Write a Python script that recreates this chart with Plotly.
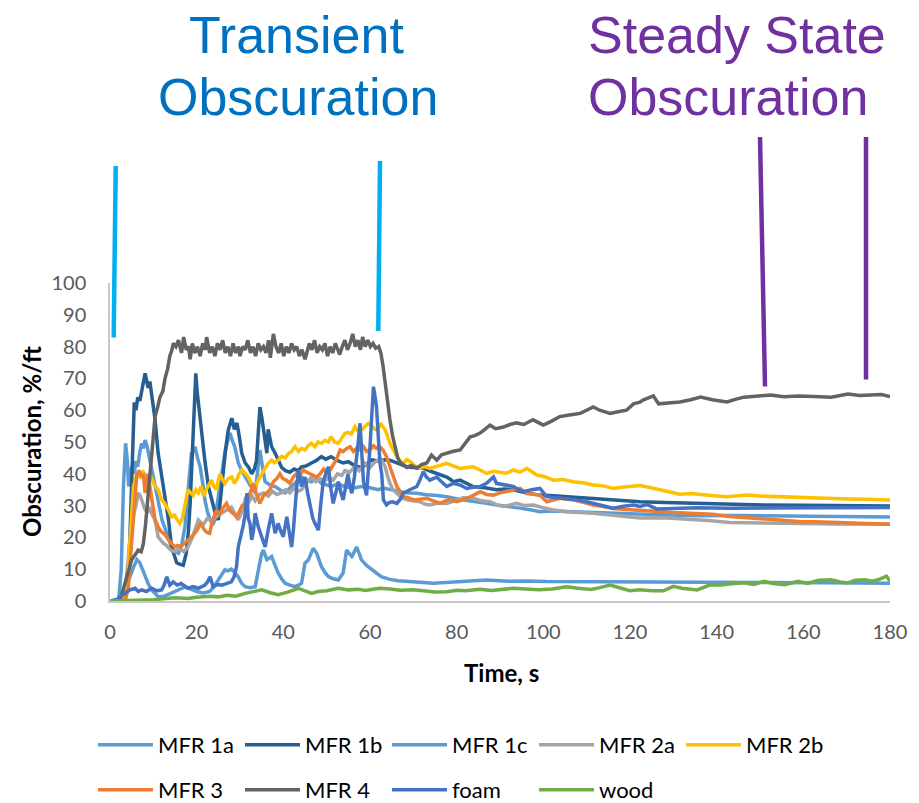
import plotly.graph_objects as go

# ---------------- data ----------------
series_names = ["MFR 1a", "MFR 1b", "MFR 1c", "MFR 2a", "MFR 2b", "MFR 3", "MFR 4", "foam", "wood"]
series_colors = ["#5B9BD5", "#255E91", "#5B9BD5", "#A5A5A5", "#FFC000", "#ED7D31", "#636363", "#4472C4", "#70AD47"]

x_ticks = [0, 20, 40, 60, 80, 100, 120, 140, 160, 180]
y_ticks = [0, 10, 20, 30, 40, 50, 60, 70, 80, 90, 100]

mfr1a = [(0,0),(2.0,0.5),(2.6,10),(3.1,36),(3.6,49.6),(4.0,44),(4.3,36),(4.7,38),(5.0,42.5),(5.6,40),(6.0,44),(6.4,42.2),(6.9,47),(7.3,49.6),(7.7,48),(8.1,50.6),(8.5,49),(8.8,46.5),(9.4,43),(10.0,39),(10.6,35),(11.2,30.7),(12.0,25.5),(13.1,21.3),(14.2,17),(15.0,15.5),(15.8,15),(16.6,18),(17.3,23.4),(17.9,33),(18.4,41),(18.8,46.5),(19.2,47),(19.6,48.5),(20.2,45),(20.8,42.2),(21.4,37),(21.9,31.8),(22.5,28),(23.1,25.5),(23.7,24),(24.2,25.5),(24.8,31),(25.4,37),(26.0,42),(26.5,46.5),(27.1,50),(27.7,52.8),(28.2,50.5),(28.8,48.5),(29.2,46),(29.6,43.4),(30.4,41),(31.2,39),(32.3,36.5),(33.5,34),(34.0,40),(34.6,47.5),(35.2,42),(35.8,37.5),(36.9,36.5),(38.1,36),(39.2,35),(40.4,34),(41.5,35.5),(42.7,37),(44.2,39),(45.3,38),(46.5,37.5),(47.7,38.5),(48.8,37),(50.0,36.5),(51.0,36),(52.5,36.8),(54.2,36),(56.0,35.5),(58.0,36),(60.0,35.6),(61.9,35),(63.0,35.5),(64.6,35),(66.5,34.5),(68.5,34),(70.8,33.9),(73.0,33.4),(75.5,33.2),(77.7,32.8),(80.5,32),(83.8,31.2),(86.5,30.8),(89.2,30.2),(92.0,29.8),(94.6,29.2),(97.0,28.7),(99.2,28.1),(102.0,28.3),(105.4,28.1),(110.0,27.8),(116.0,27.6),(120.0,27.4),(127.0,27.1),(135.5,26.8),(143.0,26.9),(151.0,26.8),(160.0,26.6),(170.0,26.5),(180.0,26.4)]

mfr1b = [(0,0),(2,0),(3,0.5),(4,3),(4.6,20),(5.0,40),(5.4,57),(5.6,62.5),(6.0,60),(6.4,64),(6.9,63),(7.3,66),(7.7,68),(8.1,71.6),(8.5,69),(8.8,67),(9.2,69),(9.6,65),(10.0,61),(10.4,57),(11.1,46.5),(11.7,41),(12.3,36),(12.9,31),(13.5,25.5),(14.2,17),(14.8,14),(15.4,12),(16.2,11.5),(16.9,11.2),(17.6,15),(18.1,22),(18.5,30.7),(18.9,45),(19.2,57),(19.5,65),(19.8,71.6),(20.1,66),(20.4,62),(20.8,56),(21.2,51.6),(21.9,44),(22.7,36),(23.2,33),(23.8,30.5),(24.4,27),(25.0,25.5),(25.5,33),(26.1,41),(26.7,48),(27.3,53.8),(28.1,57.5),(28.7,54),(29.3,56),(29.8,52),(30.4,46.5),(31.2,43.4),(32.0,42),(32.7,40),(33.3,41.5),(33.8,44),(34.2,52),(34.6,61),(35.0,58),(35.4,53.8),(35.8,50),(36.2,46.5),(36.5,54),(36.9,51),(37.3,48.5),(38.1,46.5),(38.8,44.3),(39.6,42),(40.5,41),(41.5,40.5),(42.5,41.5),(43.4,41),(44.2,42.2),(45.3,42.5),(46.5,43.4),(47.6,44.2),(48.8,45.4),(49.8,44.6),(51.0,45.4),(52.4,44.2),(53.8,43.4),(55.0,43.8),(56.5,42.5),(58.0,42),(59.2,43),(60.4,44.4),(61.8,44),(63.5,44.4),(64.6,44.3),(66.5,43.2),(68.5,42.2),(70.5,41.9),(72.3,41.8),(74.0,40.8),(75.4,40.2),(76.5,39.6),(77.7,39),(78.5,38.3),(79.2,37.5),(80.8,38),(82.3,37),(83.8,36),(86.5,35.6),(89.2,35),(91.0,35.2),(93.1,35),(96.0,34),(99.2,33.3),(102.3,33.1),(105.4,32.8),(109.0,32.5),(113.0,32.3),(117.5,31.8),(122.3,31.2),(128.0,31),(135.5,30.7),(143.0,30.5),(151.0,30.2),(160.0,30.1),(170.0,30),(180.0,29.9)]

mfr1c = [(0,0),(2.5,0.5),(3.1,3),(3.8,5),(4.6,7.6),(5.4,10.5),(6.2,13),(6.9,12),(7.5,10),(8.1,7.6),(8.8,5.5),(9.6,3.5),(10.4,2.2),(11.2,1.3),(12.5,1.5),(14.0,2.5),(15.5,3.5),(17.3,4.4),(18.5,3.8),(20.0,3),(21.5,2.5),(23.0,3),(24.0,4.5),(25.0,6.6),(25.8,8.5),(26.5,9.8),(27.2,9.5),(28.0,10),(28.8,9),(29.6,7.6),(30.4,5.5),(31.2,4.5),(32.3,4.2),(33.5,4.5),(34.0,8),(34.6,13),(35.0,15),(35.4,16),(35.8,14.5),(36.2,13),(36.8,13.5),(37.3,14),(38.0,11.5),(38.8,8.8),(39.6,7),(40.4,5.6),(41.5,5),(42.7,4.5),(43.5,5),(44.2,5.6),(45.0,11.9),(45.8,13),(46.4,15),(46.9,16.6),(47.7,15),(48.3,13),(48.8,10.8),(49.6,9),(50.4,7.7),(51.5,7),(52.7,6.6),(53.8,8.8),(54.2,12),(54.6,16),(55.2,15),(55.8,14),(56.4,15.5),(56.9,17),(57.5,15),(58.0,13),(59.2,11.2),(60.4,9.8),(61.5,8.8),(62.7,7.6),(64.6,6.8),(66.5,6.4),(68.5,6.1),(71.5,5.9),(74.6,5.6),(78.0,5.9),(82.0,6.2),(86.9,6.6),(92.0,6.2),(96.0,6.3),(100.8,6.1),(110.0,6.0),(122.3,6.1),(135.0,5.9),(150.0,5.8),(165.0,5.7),(180.0,5.6)]

mfr2a = [(0,0),(2.5,0),(3.5,3),(4.2,12),(4.8,22),(5.4,27),(6.0,30),(6.5,34),(7.0,33),(7.5,31),(8.0,29),(8.6,28),(9.2,29),(9.8,27),(10.4,25.5),(11.1,20.2),(11.7,19),(12.3,18.2),(13.0,17.5),(14.0,16),(15.0,15.5),(16.0,16.5),(17.0,15.5),(18.0,17),(19.0,20),(20.4,25.5),(21.5,24),(22.5,26),(23.5,25),(24.5,26.5),(25.8,27.7),(26.8,28.5),(28.0,29.5),(29.0,27),(29.6,25.5),(30.4,28),(31.2,32),(32.0,31),(32.8,33),(33.5,31.5),(34.5,33.5),(35.5,34),(36.5,33),(37.5,34.5),(38.5,33.5),(39.5,34),(40.5,35),(41.5,34),(42.5,35.5),(43.5,34.5),(44.2,35),(45.3,37),(46.5,39),(47.5,37.5),(48.5,38.5),(49.5,37.5),(50.4,39),(51.5,38),(52.5,40),(53.5,39.5),(54.2,41),(55.3,40.5),(56.5,42.2),(57.5,41),(58.8,43.4),(60.0,42),(61.0,43.5),(61.9,44.4),(62.3,45),(63.0,43.5),(63.5,42.2),(64.0,39.5),(64.6,37),(65.3,35),(66.2,33.9),(67.3,32.5),(68.5,31.8),(70.0,31.5),(71.5,31.2),(72.6,30.5),(73.8,30.2),(75.8,30.8),(77.7,30.7),(79.5,31.5),(81.5,32.5),(83.8,32.3),(85.8,31.5),(87.7,31.2),(89.3,30.2),(90.8,29.7),(92.5,30.3),(93.8,30.7),(95.7,30),(97.7,30.2),(100.0,29.3),(102.3,28.6),(105.4,28.1),(108.5,27.9),(111.5,27.6),(116.1,27),(119.0,26.7),(122.3,26.1),(127.7,26.2),(133.0,25.8),(138.0,25.3),(143.0,24.7),(150.0,24.5),(158.8,24.2),(168.0,24.2),(180.0,24.1)]

mfr2b = [(0,0),(3.0,0),(4.0,5),(4.6,20),(5.0,30),(5.4,36),(6.2,40),(7.0,39),(7.7,40.5),(8.5,39),(9.2,40),(9.8,38),(10.4,36),(11.1,35),(11.9,31.8),(12.5,31),(13.1,29.7),(13.7,28),(14.2,26.5),(14.9,27),(15.5,25.5),(16.1,24.4),(16.7,26),(17.3,29.7),(17.8,33),(18.0,35),(18.6,34),(19.2,33.2),(19.8,35),(20.4,34),(21.0,36),(21.6,33),(22.2,35),(22.8,36.5),(23.4,38),(24.0,36),(24.6,35),(25.0,38),(25.4,40),(26.0,38),(26.5,37),(27.3,38.5),(28.1,39),(28.7,37),(29.2,38),(29.8,40),(30.4,41.2),(31.2,40.1),(31.9,39),(32.6,37),(33.5,36),(34.2,38),(35.0,40),(35.6,41),(36.3,43),(37.3,44.3),(38.0,43.5),(38.8,44.3),(39.6,45.5),(40.4,45),(41.2,46.4),(41.9,47),(42.7,48.5),(43.5,47),(44.2,48),(45.0,47.5),(45.8,49),(46.5,49.6),(47.3,48.5),(48.0,50),(48.8,49.6),(49.6,50.5),(50.4,50),(51.0,51.7),(51.8,50),(52.7,49.6),(53.4,51),(54.2,52.7),(54.9,53),(55.7,52.5),(56.5,54.8),(57.2,53.5),(58.0,53.8),(58.8,55),(59.6,55.9),(60.4,55),(61.2,54),(61.9,53.8),(62.3,55.9),(63.0,54.8),(63.5,53.8),(64.0,52),(64.6,49.6),(65.4,47.5),(66.2,45.4),(67.0,44),(67.7,43.3),(68.5,44.5),(69.2,43.9),(70.4,42.5),(71.5,41.7),(72.6,42.3),(73.8,41.7),(75.0,42.2),(76.2,42.8),(77.7,43.3),(79.2,42.5),(80.8,41.7),(82.3,42),(83.8,42.2),(85.4,41.2),(86.9,40.1),(88.5,40.8),(90.0,40.6),(91.5,40.2),(93.1,41.2),(94.6,40.5),(96.2,41.7),(97.3,40.8),(98.5,39.6),(100.5,39),(102.3,38),(104.5,38.2),(106.9,37.5),(109.2,37.2),(111.5,36.5),(113.8,36.2),(116.1,35.4),(118.0,35.8),(120.0,36),(122.3,36.3),(124.6,35.7),(127.0,35),(129.2,34.2),(131.5,33.6),(134.0,33.8),(137.0,33.3),(140.0,33),(142.4,32.8),(145.0,33.2),(147.0,33.3),(150.0,33),(154.0,32.8),(158.8,32.5),(163.0,32.4),(166.5,32.2),(170.3,32.1),(175.0,32),(180.0,31.8)]

mfr3 = [(0,0),(3.5,0),(4.2,4),(4.8,14),(5.4,25.5),(5.8,33),(6.2,40),(6.8,41),(7.3,39),(7.7,40),(8.1,34),(8.5,37),(8.8,40),(9.2,36),(9.6,31.8),(10.0,28),(10.4,25.5),(11.1,23.4),(11.7,22),(12.3,21.3),(12.9,20.5),(13.5,19.2),(14.2,18),(14.9,17),(15.6,17.5),(16.4,17),(17.0,18),(17.5,18.5),(18.0,19.2),(18.7,20),(19.6,21.3),(20.2,22.5),(20.8,24.4),(21.4,23),(22.0,22),(22.5,21.5),(23.0,21.3),(23.6,25),(24.1,27),(24.6,28.6),(25.3,27),(25.9,29),(26.9,30.7),(27.6,28.5),(28.4,27.5),(29.2,26.5),(29.8,28),(30.5,30),(31.5,30.7),(32.3,34),(33.1,37),(33.8,33.5),(34.6,30.7),(35.4,33),(36.2,34),(36.9,35),(37.7,37.5),(38.5,38.5),(39.2,40),(39.9,38.5),(40.7,38),(41.5,37),(42.3,39),(43.0,40),(43.8,39.5),(44.6,41.2),(45.4,40.5),(46.2,40),(47.0,39.5),(47.7,39),(48.5,40),(49.3,41.5),(50.0,40.5),(50.8,41.2),(51.6,43),(52.4,45),(53.1,47.5),(53.8,47),(54.6,48),(55.4,48.5),(56.2,47),(56.9,48),(57.7,47.5),(58.5,48.5),(59.2,47),(60.0,47.5),(60.8,48.8),(61.5,48),(62.3,48.5),(63.0,47.5),(63.8,45.4),(64.5,42.5),(65.0,40.1),(65.6,38),(66.2,36),(66.9,34.5),(67.7,32.8),(68.8,32.5),(70.0,31.8),(71.5,32),(73.1,32.3),(74.6,31.5),(76.2,30.7),(77.4,31.5),(78.5,31.8),(80.0,31.2),(81.5,31.8),(83.5,33),(85.4,34.4),(86.9,33.5),(88.5,33.3),(90.0,34),(91.5,34.4),(93.0,34.8),(94.6,35.4),(96.2,33.8),(97.7,33.5),(99.2,33.3),(100.8,31.2),(102.3,31.8),(103.8,32.3),(105.4,32),(106.9,31.8),(109.2,31),(111.5,30.2),(113.8,29.7),(116.1,29.1),(119.0,28.8),(122.3,28.6),(126.0,28.2),(130.0,27.8),(134.5,27.6),(139.0,27.3),(143.0,26.6),(147.0,26.2),(151.0,25.8),(155.0,25.4),(159.0,25),(162.8,24.9),(166.4,24.7),(170.0,24.5),(175.0,24.3),(180.0,24.1)]

mfr4 = [(0,0),(2,0),(2.5,1),(3.5,5.5),(4.2,9),(5,13),(5.8,14.5),(6.5,16),(7.2,15.5),(7.7,18),(8.2,24),(8.6,30),(9.1,38),(9.6,46),(10.0,53),(10.4,58),(11.0,61),(11.5,64),(12.2,66),(12.7,70),(13.3,73),(13.8,77),(14.3,79),(14.6,81),(15.2,80),(15.8,82),(16.5,78),(17.0,83),(17.6,79),(18.1,80),(18.5,76),(19.0,81),(19.6,78),(20.2,80),(20.8,77),(21.4,81),(22.0,79),(22.3,83),(23.0,78),(23.6,80),(24.2,77),(24.8,81),(25.4,79),(26.0,82),(26.6,78),(27.2,80),(27.8,77),(28.4,81),(29.0,78),(29.6,80),(30.0,77),(30.6,80),(31.2,79),(31.8,82),(32.4,78),(33.0,80),(33.6,77),(34.2,81),(34.8,79),(35.4,80),(36.0,78),(36.6,82),(37.0,76.5),(37.7,84),(38.3,80),(38.9,78),(39.5,81),(40.1,77),(40.7,80),(41.3,78),(41.9,81),(42.5,79),(43.1,80),(43.7,77),(44.3,79),(45.0,76),(45.4,78),(46.0,81),(46.6,79),(47.2,82),(47.8,78),(48.4,80),(49.0,79),(49.6,81),(50.2,77),(50.8,80),(51.4,78),(52.0,81),(52.6,79),(53.0,77.5),(53.6,80),(54.2,82),(54.8,79),(55.4,81),(56.0,84),(56.6,80),(57.2,82),(57.8,79),(58.3,83),(58.9,80),(59.5,82),(60.1,80),(60.7,81),(61.3,79.5),(62.0,80),(62.5,78),(63.0,74),(63.5,68),(64.0,63),(64.6,57),(65.2,52),(65.8,48.5),(66.4,45),(66.9,43.7),(68.0,42.5),(68.5,42),(69.5,42.6),(70.8,41.8),(72.0,43),(73.1,43.4),(74.2,45.9),(75.4,44.3),(76.5,46),(77.7,46.5),(79.0,47),(80.8,47.5),(82.0,49.5),(83.1,51.6),(84.2,52),(85.4,52.8),(86.5,54),(87.7,55.3),(89.0,54.2),(90.8,54.7),(92.3,55.5),(93.8,56),(95.5,55.5),(97.6,57),(99.0,56),(100.0,55.3),(101.8,56.5),(103.8,58),(106.0,58.5),(108.5,59),(110.0,60),(111.5,61),(113.0,60),(115.4,59),(117.2,59.5),(119.2,60),(120.8,62),(122.3,62.5),(123.0,63.2),(124.3,63.8),(125.4,64.5),(126.6,62),(128.5,62.3),(131.5,62.6),(134.0,63.3),(136.3,64.1),(139.0,63.3),(142.4,62.6),(144.5,63.5),(146.3,64.1),(149.0,64.4),(152.5,64.8),(155.5,64.2),(158.8,64.5),(162.5,64.3),(166.4,64.1),(168.5,64.6),(170.3,65.1),(173.0,64.6),(175.8,64.8),(178.0,64.9),(180.0,64.3)]

foam = [(0,0),(1.7,0.5),(2.5,1.5),(3.5,2.5),(4.6,3.5),(5.8,4),(6.5,3),(7.3,3.5),(8.4,3),(9.6,4),(10.8,3.2),(11.9,3.5),(12.5,5),(13.1,7.6),(13.8,5),(14.6,6),(15.5,5),(16.4,5.5),(17.2,4.6),(18.0,4),(19.2,4.5),(20.4,4),(21.2,4.5),(21.9,5),(22.5,6),(23.1,7.6),(23.8,4.5),(24.8,5.2),(25.8,5),(27.0,5.5),(28.0,6),(28.6,7.5),(29.2,10.8),(29.6,17),(30.0,19),(30.4,21.3),(30.8,24),(31.2,27.6),(31.6,33.9),(31.9,26),(32.3,24.4),(32.7,19.2),(33.1,22),(33.5,27.6),(34.2,23.4),(35.0,20.2),(35.8,17),(36.5,22.3),(37.3,27.6),(38.1,21.3),(38.8,24.4),(39.4,22),(40.0,20.2),(40.8,26.5),(41.3,22),(41.9,17),(42.3,22),(42.7,29.7),(43.1,36),(43.5,41.2),(43.9,38),(44.2,36),(44.6,37.5),(45.0,39),(45.6,34),(46.2,29.7),(46.8,26),(47.3,24.4),(48.1,22.3),(48.6,30),(49.2,37.5),(49.8,40),(50.4,42.2),(50.9,36),(51.5,30.7),(52.1,34),(52.7,37.5),(53.3,34),(53.8,31.8),(54.4,36),(54.9,40),(55.4,36),(55.8,33.9),(56.4,39),(56.9,44.3),(57.3,50),(57.7,55.9),(58.1,46),(58.5,37.5),(59.2,33.2),(59.6,40),(60.0,48.5),(60.4,58),(60.8,67.4),(61.2,64),(61.5,61.1),(61.9,52),(62.3,43.3),(62.7,40),(63.1,31.8),(63.8,30.2),(64.5,31),(65.2,31.2),(66.2,30.7),(67.0,32),(67.7,33.9),(69.2,35),(70.8,36),(71.5,38),(72.3,40.7),(73.0,39),(73.8,38),(74.6,38.5),(75.4,39),(76.5,37.5),(77.7,36),(78.5,36.5),(79.2,37),(80.8,36.5),(82.3,35.4),(83.8,35.8),(85.4,36),(86.9,37),(88.5,39),(89.2,37),(91.0,36.5),(93.1,36),(94.3,35),(95.4,34.4),(97.3,35),(99.2,35.4),(100.8,32.8),(103.0,32.5),(105.4,32.3),(107.5,31.8),(110.0,31.2),(113.0,30.3),(116.1,29.2),(118.5,29.8),(120.8,30.2),(122.3,29.7),(124.0,30.3),(126.2,28.9),(130.0,29.1),(135.5,29.3),(143.0,29.2),(151.0,29.3),(160.0,29.4),(170.0,29.3),(180.0,29.4)]

wood = [(0,0),(5,0.2),(10,0.4),(13,0.8),(15,1.0),(18,0.8),(20,1.2),(23,1.5),(25,1.3),(27,1.8),(29,1.5),(31.2,2.4),(33,2.8),(35,3.5),(37,2.6),(38.8,2),(41,2.8),(43.5,4),(45,3.2),(46.5,2.4),(48,3),(50,3.2),(52.7,4),(55,3.5),(57.3,3.7),(59,3.3),(61,3.8),(62.3,4),(64.6,3.8),(67,3.4),(70,3.5),(72,3.2),(75,2.8),(77.7,2.9),(80,3.4),(82,3.2),(85.4,3.7),(88,3.3),(90,3.6),(93.1,4),(96,3.8),(99,3.5),(102,3.8),(105.4,4.5),(108,4),(111,3.6),(113,4.2),(115.4,5),(118,4),(120,3.2),(122.3,3.5),(125,3.2),(127.7,3.2),(130,4.6),(132,4.0),(135.5,3.5),(138.5,5.1),(141,5.0),(143.5,5.4),(146.3,5.7),(148.5,5.2),(151,6.2),(153,5.5),(155.7,5.1),(158.8,6.2),(161,5.5),(163.5,6.5),(166.4,6.7),(168.5,6.0),(170.3,5.7),(172,6.5),(174.2,6.7),(176,6.2),(177.5,6.8),(179.2,7.8),(180,6.2)]

series_data = [mfr1a, mfr1b, mfr1c, mfr2a, mfr2b, mfr3, mfr4, foam, wood]

# ---------------- figure ----------------
W, H = 919, 803
ML, MR, MT, MB = 110, 29, 283, 202
PW, PH = W - ML - MR, H - MT - MB

def px(xp):
    return (xp - ML) / PW

def py(yp):
    return (H - MB - yp) / PH

def cy(yp):
    return 1 - yp / H

def cx(xp):
    return xp / W

FONT = "Lato, 'Open Sans', sans-serif"
fig = go.Figure()
for i, (name, col, pts) in enumerate(zip(series_names, series_colors, series_data)):
    fig.add_trace(go.Scatter(
        x=[p[0] for p in pts], y=[p[1] for p in pts], mode="lines", name=name,
        line=dict(color=col, width=3.5),
        legend="legend" if i < 5 else "legend2",
    ))

leg_common = dict(orientation="h", xref="container", yref="container", xanchor="left", yanchor="middle",
                  entrywidth=77, entrywidthmode="pixels", itemwidth=55,
                  font=dict(size=22, color="#000000", family=FONT), bgcolor="rgba(0,0,0,0)",
                  tracegroupgap=0, borderwidth=0)

fig.update_layout(
    width=W, height=H,
    margin=dict(l=ML, r=MR, t=MT, b=MB, pad=0, autoexpand=False),
    paper_bgcolor="white", plot_bgcolor="white",
    font=dict(family=FONT, size=19, color="#000000"),
    xaxis=dict(range=[0, 180], tickvals=x_ticks, ticktext=[str(v) for v in x_ticks],
               showgrid=False, zeroline=False, showline=True, linecolor="#C8C8C8", linewidth=1.5,
               ticks="", tickfont=dict(size=20, color="#595959"), ticklabelstandoff=12),
    yaxis=dict(range=[0, 100], tickvals=y_ticks, ticktext=[str(v) for v in y_ticks],
               showgrid=False, zeroline=False, showline=True, linecolor="#C8C8C8", linewidth=1.5,
               ticks="", tickfont=dict(size=20, color="#595959"), ticklabelstandoff=18),
    legend=dict(leg_common, x=cx(93), y=cy(745)),
    legend2=dict(leg_common, x=cx(93), y=cy(790)),
    showlegend=True,
)

# axis titles
fig.add_annotation(text="<b>Obscuration, %/ft</b>", xref="paper", yref="paper",
                   x=px(31), y=py(442), textangle=-90, showarrow=False,
                   xanchor="center", yanchor="middle", font=dict(size=24, color="#000000", family=FONT))
fig.add_annotation(text="<b>Time, s</b>", xref="paper", yref="paper",
                   x=px(501), y=py(672), showarrow=False,
                   xanchor="center", yanchor="middle", font=dict(size=24, color="#000000", family=FONT))

# region labels
TF = "'Liberation Sans', Arial, sans-serif"
for txt, xc, yc, anchor, col in [
    ("Transient", 296, 35, "center", "#0070C0"),
    ("Obscuration", 298, 97, "center", "#0070C0"),
    ("Steady State", 586, 35, "left", "#7030A0"),
    ("Obscuration", 586, 97, "left", "#7030A0"),
]:
    fig.add_annotation(text=txt, xref="paper", yref="paper", x=px(xc), y=py(yc),
                       showarrow=False, xanchor=anchor, yanchor="middle",
                       font=dict(size=52, color=col, family=TF))

# marker lines
for (x0, y0, x1, y1, col) in [
    (115.7, 166, 113.7, 337.5, "#00B0F0"),
    (380, 161, 378.3, 331, "#00B0F0"),
    (760, 137, 765, 386.5, "#7030A0"),
    (866, 137, 866, 379.5, "#7030A0"),
]:
    fig.add_shape(type="line", xref="paper", yref="paper",
                  x0=px(x0), y0=py(y0), x1=px(x1), y1=py(y1),
                  line=dict(color=col, width=4.5))

fig.write_html("out.html")
